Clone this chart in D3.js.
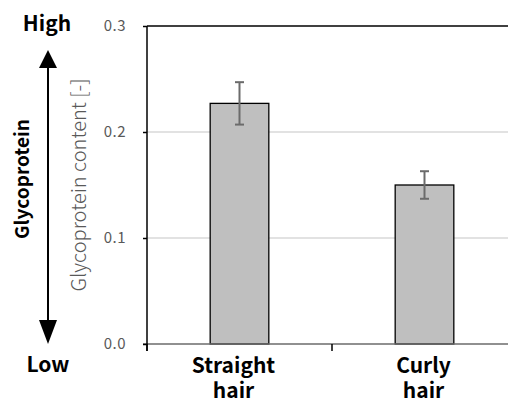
<!DOCTYPE html>
<html><head><meta charset="utf-8">
<script src="https://cdn.jsdelivr.net/npm/d3@7"></script>
<style>body{margin:0;background:#fff}svg{display:block}</style>
</head><body>
<script>
const categories = [["Straight","hair"],["Curly","hair"]];
const values = [0.227, 0.150];
const errors = [0.020, 0.013];
const yTicks = [0.0, 0.1, 0.2, 0.3];

const W = 508, H = 403;
const font = "'Noto Sans CJK JP','Noto Sans',sans-serif";
const svg = d3.select("body").append("svg").attr("width", W).attr("height", H);

const x = d3.scaleBand().domain(categories.map((c,i)=>i)).range([147, 517]).paddingInner(0.683).paddingOuter(0.3415);
const xb = d3.scaleBand().domain(categories.map((c,i)=>i)).range([147, 517]);
const y = d3.scaleLinear().domain([0, 0.3]).range([344, 26]);
const labelShift = [-6, -1];

// gridlines
svg.append("g").selectAll("line").data(yTicks.filter(t=>t>0 && t<0.3)).join("line")
  .attr("x1", 147).attr("x2", W).attr("y1", d=>y(d)).attr("y2", d=>y(d))
  .attr("stroke", "#d9d9d9").attr("stroke-width", 1.3);
// top border
svg.append("line").attr("x1", 147).attr("x2", W).attr("y1", y(0.3)).attr("y2", y(0.3))
  .attr("stroke", "#000").attr("stroke-width", 1.5);

// bars
svg.append("g").selectAll("rect").data(values).join("rect")
  .attr("x", (d,i)=>x(i)).attr("width", x.bandwidth())
  .attr("y", d=>y(d)).attr("height", d=>y(0)-y(d))
  .attr("fill", "#bfbfbf").attr("stroke", "#000").attr("stroke-width", 1.3);

// error bars
const eb = svg.append("g").attr("stroke", "#6b6b6b").attr("stroke-width", 2);
values.forEach((v,i)=>{
  const cx = x(i) + x.bandwidth()/2;
  eb.append("line").attr("x1", cx).attr("x2", cx).attr("y1", y(v+errors[i])).attr("y2", y(v-errors[i]));
  eb.append("line").attr("x1", cx-4.5).attr("x2", cx+4.5).attr("y1", y(v+errors[i])).attr("y2", y(v+errors[i]));
  eb.append("line").attr("x1", cx-4.5).attr("x2", cx+4.5).attr("y1", y(v-errors[i])).attr("y2", y(v-errors[i]));
});

// x axis line
svg.append("line").attr("x1", 143).attr("x2", W).attr("y1", y(0)).attr("y2", y(0))
  .attr("stroke", "#6b6b6b").attr("stroke-width", 1.5);
// x ticks at band boundaries
svg.append("g").selectAll("line").data(categories.map((c,i)=>i)).join("line")
  .attr("x1", d=>xb(d)).attr("x2", d=>xb(d)).attr("y1", y(0)).attr("y2", y(0)+7)
  .attr("stroke", "#000").attr("stroke-width", 1.5);

// y axis
const yAxis = svg.append("g").attr("transform", "translate(147,0)")
  .call(d3.axisLeft(y).tickValues(yTicks).tickFormat(d3.format(".1f")).tickSize(4).tickPadding(17));
yAxis.attr("font-size", null).attr("font-family", null);
yAxis.select(".domain").attr("stroke", "#000").attr("stroke-width", 1.5).attr("d", `M0,${y(0)+7}V${y(0.3)}`);
yAxis.selectAll(".tick line").attr("stroke", "#000").attr("stroke-width", 1.5);
yAxis.selectAll(".tick text").attr("fill", "#595959").attr("font-family", font).attr("font-size", 15)
  .attr("letter-spacing", "0.5px");

// y title
svg.append("text").attr("transform", `translate(86,${(y(0)+y(0.3))/2}) rotate(-90)`)
  .attr("text-anchor", "middle").attr("fill", "#595959")
  .style("font-family", font).style("font-size", "20px").style("font-weight", "300").text("Glycoprotein content [-]");

// category labels
const cl = svg.append("g").selectAll("g").data(categories).join("g");
cl.append("text").attr("text-anchor", "middle").attr("fill", "#000")
  .style("font-family", font).style("font-size", "21px").style("font-weight", "bold")
  .attr("y", 373).attr("x", (d,i)=>x(i)+x.bandwidth()/2 + labelShift[i]).text(d=>d[0]);
cl.append("text").attr("text-anchor", "middle").attr("fill", "#000")
  .style("font-family", font).style("font-size", "21px").style("font-weight", "bold")
  .attr("y", 398).attr("x", (d,i)=>x(i)+x.bandwidth()/2 + labelShift[i]).text(d=>d[1]);

// left annotation
svg.append("text").attr("x", 47).attr("y", 31).attr("text-anchor", "middle")
  .style("font-family", font).style("font-size", "21px").style("font-weight", "bold").text("High");
svg.append("text").attr("x", 48).attr("y", 372).attr("text-anchor", "middle")
  .style("font-family", font).style("font-size", "21px").style("font-weight", "bold").text("Low");
svg.append("line").attr("x1", 48).attr("x2", 48).attr("y1", 62).attr("y2", 326)
  .attr("stroke", "#000").attr("stroke-width", 2);
svg.append("path").attr("d", "M48,50 L39,68 L57,68 Z").attr("fill", "#000");
svg.append("path").attr("d", "M48,344 L39,320 L57,320 Z").attr("fill", "#000");
svg.append("text").attr("transform", `translate(29,179) rotate(-90)`).attr("text-anchor", "middle")
  .style("font-family", font).style("font-size", "19px").style("font-weight", "bold").text("Glycoprotein");
</script>
</body></html>
